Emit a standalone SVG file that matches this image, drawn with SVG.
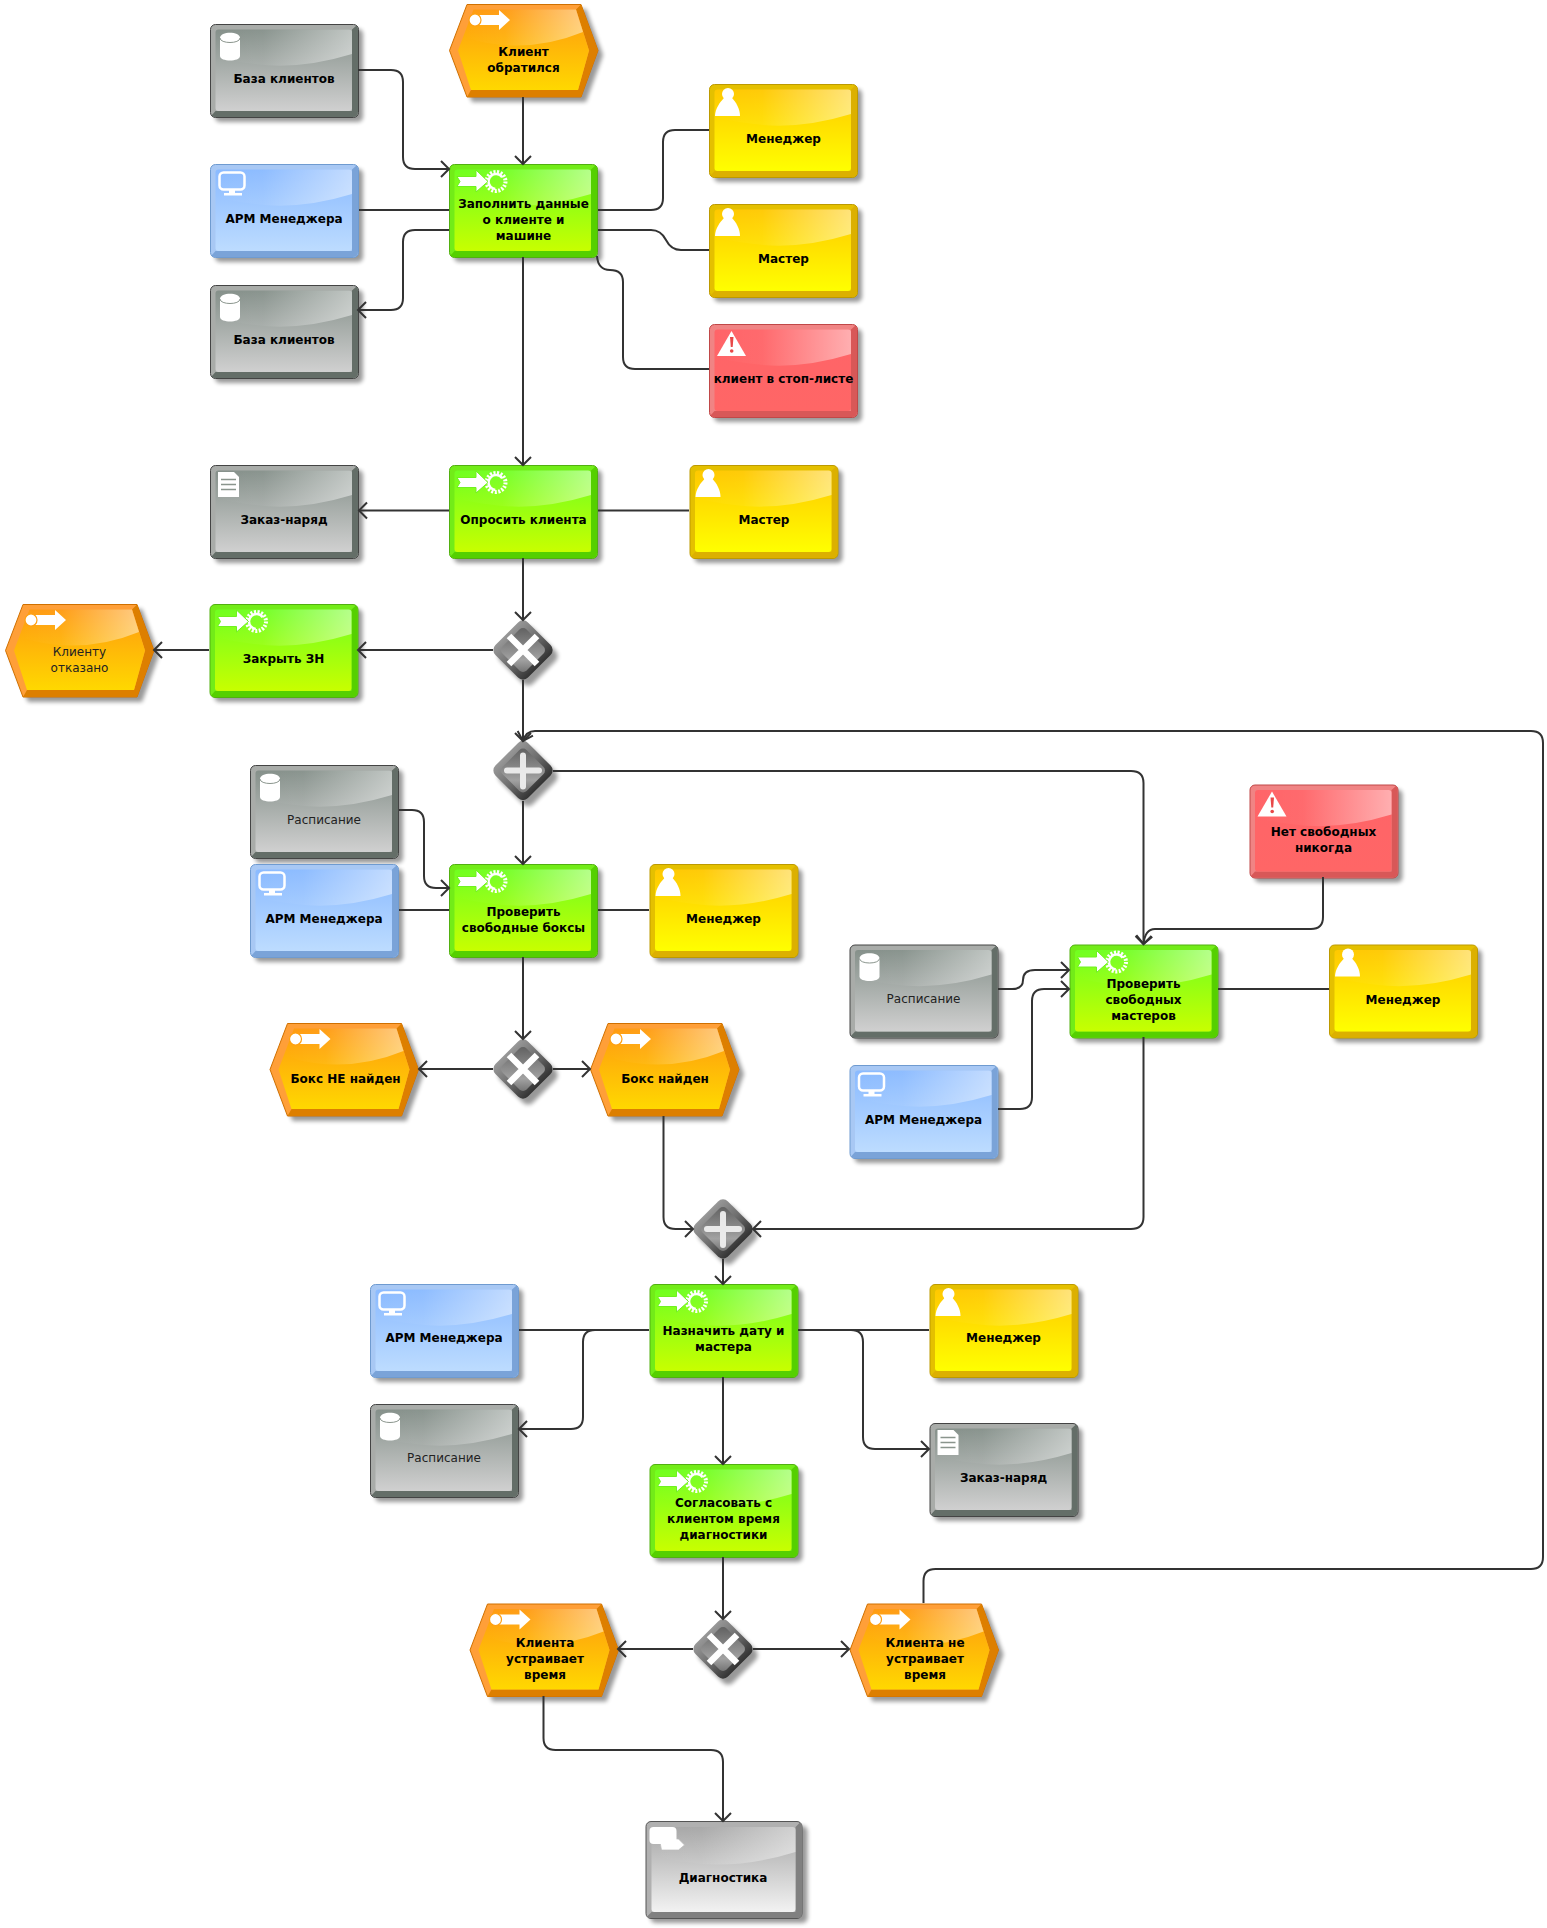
<svg xmlns="http://www.w3.org/2000/svg" xmlns:xlink="http://www.w3.org/1999/xlink" width="1547" height="1928" viewBox="0 0 1547 1928">
<style>
text{font-family:"DejaVu Sans","Liberation Sans",sans-serif;font-size:12px;font-weight:bold;text-anchor:middle;fill:#000}
text.r{font-weight:normal;fill:#222}
#connectors path{fill:none;stroke:#333;stroke-width:2}
.a{marker-end:url(#arrow)}
.sh{fill:#000;opacity:.4;filter:url(#blur)}
.w{fill:#fff}
</style>
<defs>
<filter id="blur" x="-20%" y="-20%" width="140%" height="140%"><feGaussianBlur stdDeviation="2.2"/></filter>
<marker id="arrow" markerUnits="userSpaceOnUse" markerWidth="20" markerHeight="20" refX="10" refY="10" orient="auto" overflow="visible"><path d="M2 2L10 10L2 18" fill="none" stroke="#333" stroke-width="2"/></marker>
<linearGradient id="gl" x1="0" y1="0" x2="1" y2="0"><stop offset="0" stop-color="#fff" stop-opacity="0"/><stop offset=".35" stop-color="#fff" stop-opacity=".04"/><stop offset="1" stop-color="#fff" stop-opacity=".48"/></linearGradient>
<linearGradient id="iy" x1="0" y1="0" x2="0" y2="1"><stop offset="0" stop-color="#ffc800"/><stop offset="1" stop-color="#ffff00"/></linearGradient>
<linearGradient id="ig" x1="0" y1="0" x2="0" y2="1"><stop offset="0" stop-color="#70ff20"/><stop offset="1" stop-color="#c8ff00"/></linearGradient>
<linearGradient id="ib" x1="0" y1="0" x2="0" y2="1"><stop offset="0" stop-color="#8abaff"/><stop offset="1" stop-color="#bddcff"/></linearGradient>
<linearGradient id="in" x1="0" y1="0" x2="0" y2="1"><stop offset="0" stop-color="#85908a"/><stop offset="1" stop-color="#d0d0d0"/></linearGradient>
<linearGradient id="ir" x1="0" y1="0" x2="0" y2="1"><stop offset="0" stop-color="#ff6468"/><stop offset="1" stop-color="#ff6666"/></linearGradient>
<linearGradient id="io" x1="0" y1="0" x2="0" y2="1"><stop offset="0" stop-color="#ff9a10"/><stop offset="1" stop-color="#ffd800"/></linearGradient>
<linearGradient id="il" x1="0" y1="0" x2="0" y2="1"><stop offset="0" stop-color="#a6a6a6"/><stop offset="1" stop-color="#f2f2f2"/></linearGradient>
<linearGradient id="db" x1="0" y1="0" x2="1" y2="0"><stop offset="0" stop-color="#989898"/><stop offset=".5" stop-color="#6e6e6e"/><stop offset="1" stop-color="#333"/></linearGradient>
<linearGradient id="di" x1="0" y1="0" x2="1" y2="1"><stop offset="0" stop-color="#5e5e5e"/><stop offset=".55" stop-color="#929292"/><stop offset=".7" stop-color="#a2a2a2"/><stop offset="1" stop-color="#6e6e6e"/></linearGradient>

<rect id="bshadow" x="5" y="5" width="148" height="93" rx="5" class="sh"/>
<path id="bdark" d="M146.500 1.500L142 5.500V87H5.500L1.500 91.500Q3 93 5 93H143Q148 93 148 88V5Q148 3 146.500 1.500Z"/>
<path id="bgloss" d="M5.500 8Q5.500 5.500 8 5.500H139Q142 5.500 142 8V30Q90 46 45 40Q20 37 5.500 33Z" fill="url(#gl)"/>

<g id="box-y"><use href="#bshadow"/><rect x=".5" y=".5" width="148" height="93" rx="5" fill="#e4c000" stroke="#bd9a00"/><use href="#bdark" fill="#dcb000"/><rect x="5.500" y="5.500" width="136.500" height="81.500" rx="3" fill="url(#iy)"/><use href="#bgloss"/></g>
<g id="box-g"><use href="#bshadow"/><rect x=".5" y=".5" width="148" height="93" rx="5" fill="#72ec18" stroke="#52b010"/><use href="#bdark" fill="#55d000"/><rect x="5.500" y="5.500" width="136.500" height="81.500" rx="3" fill="url(#ig)"/><use href="#bgloss"/></g>
<g id="box-b"><use href="#bshadow"/><rect x=".5" y=".5" width="148" height="93" rx="5" fill="#a8c8f4" stroke="#6f9bd0"/><use href="#bdark" fill="#7aa3d8"/><rect x="5.500" y="5.500" width="136.500" height="81.500" rx="3" fill="url(#ib)"/><use href="#bgloss"/></g>
<g id="box-n"><use href="#bshadow"/><rect x=".5" y=".5" width="148" height="93" rx="5" fill="#a9aca9" stroke="#444"/><use href="#bdark" fill="#646e68"/><rect x="5.500" y="5.500" width="136.500" height="81.500" rx="3" fill="url(#in)"/><use href="#bgloss"/></g>
<g id="box-r"><use href="#bshadow"/><rect x=".5" y=".5" width="148" height="93" rx="5" fill="#f08484" stroke="#c04848"/><use href="#bdark" fill="#d85858"/><rect x="5.500" y="5.500" width="136.500" height="81.500" rx="3" fill="url(#ir)"/><use href="#bgloss"/></g>
<g id="box-l"><rect x="5" y="5" width="157" height="97" rx="5" class="sh"/><rect x=".5" y=".5" width="156" height="97" rx="5" fill="#b0b0b0" stroke="#555"/><path d="M154.500 1.500L150 6V91H6L1.500 95.500Q3 97 5 97H152Q156.500 97 156.500 92V5Q156.500 3 154.500 1.500Z" fill="#808080"/><rect x="6" y="6" width="144" height="85" rx="3" fill="url(#il)"/><path d="M6 9Q6 6 9 6H147Q150 6 150 9V31Q95 48 48 42Q21 39 6 34Z" fill="url(#gl)"/></g>

<g id="hex"><path d="M23 5 L137 5 L154 51 L137 98 L23 98 L5 51Z" class="sh"/><path d="M18 .5H132L149 46.500L132 93H18L.5 46.500Z" fill="#ff9f38" stroke="#d07000"/><path d="M132 .5L149 46.500L132 93H18L22 86H129L140 46.500L127 5.500Z" fill="#dd7f00"/><path d="M24.500 5.500H127L140 46.500L129 86H22L9 46.500Z" fill="url(#io)"/><path d="M24.500 5.500H127L134 28Q90 46 45 40Q25 37 14 32Z" fill="url(#gl)"/></g>

<g id="i-db"><path class="w" d="M10 14C10 7 30 7 30 14V32C30 38 10 38 10 32Z"/><path d="M10 14C10 20 30 20 30 14" fill="none" stroke="#8a958d" stroke-width="1"/></g>
<g id="i-mon"><rect x="9.500" y="8.500" width="25" height="17" rx="4" fill="none" stroke="#fff" stroke-width="2.500"/><rect x="19" y="26" width="6" height="3" class="w"/><rect x="14" y="29" width="18" height="2.500" class="w"/></g>
<g id="i-per"><circle cx="19" cy="10" r="6" class="w"/><path class="w" d="M15 14H23C27 18 31 25 31 32H6C6 25 11 18 15 14Z"/></g>
<g id="i-war"><path class="w" d="M22.500 7L37 32H8Z"/><path d="M21 13H24.500L23.700 23H21.800Z" fill="#e84848"/><circle cx="22.700" cy="27" r="1.800" fill="#e84848"/></g>
<g id="i-fun"><circle cx="47" cy="17.500" r="9.500" fill="none" stroke="#fff" stroke-width="4" stroke-dasharray="2 1.500"/><circle cx="47" cy="17.500" r="7.500" fill="none" stroke="#fff" stroke-width="2.500" stroke-dasharray="30 17" transform="rotate(95 47 17.500)"/><path class="w" stroke="#70f020" stroke-width="1" d="M8 12.500H27V6L39 17.500L27 28V22.500H8L11 17.500Z"/></g>
<g id="i-evt"><path class="w" d="M26 11H50V6L61 16L50 26V21H26Z"/><circle cx="26" cy="16" r="6" class="w" stroke="#ffa010" stroke-width="1.200"/></g>
<g id="i-doc"><path class="w" d="M8 7H24L29 12V32H8Z"/><path d="M11 14.500H26M11 19.500H26M11 24.500H26" stroke="#8a958d" stroke-width="1.500"/></g>
<g id="i-if"><path class="w" d="M14 18H33L39 24L33 29H16Z" stroke="#bbb" stroke-width=".7"/><rect x="4" y="6" width="27" height="17" rx="4" class="w"/></g>

<g id="gw"><rect x="-23" y="-23" width="46" height="46" rx="7" transform="translate(5 6) rotate(45)" class="sh"/><rect x="-23" y="-23" width="46" height="46" rx="7" transform="rotate(45)" fill="url(#db)"/><rect x="-17" y="-17" width="34" height="34" rx="5" transform="rotate(45)" fill="url(#di)"/></g>
<path id="mx" d="M-14-14L14 14M14-14L-14 14" stroke="#fff" stroke-width="6.500" fill="none"/>
<path id="mp" d="M-16 0H16M0-15V16" stroke="#eee" stroke-width="6" stroke-linecap="round" fill="none" opacity=".95"/>
</defs>

<g id="n1" transform="translate(210 24)"><use href="#box-n"/><use href="#i-db"/><text x="74" y="59">База клиентов</text></g>
<g id="n2" transform="translate(449 4)"><use href="#hex"/><use href="#i-evt"/><text x="74.500" y="52">Клиент</text><text x="74.500" y="68">обратился</text></g>
<g id="n3" transform="translate(210 164)"><use href="#box-b"/><use href="#i-mon"/><text x="74" y="58.500">АРМ Менеджера</text></g>
<g id="n4" transform="translate(449 164)"><use href="#box-g"/><use href="#i-fun"/><text x="74.500" y="43.500">Заполнить данные</text><text x="74.500" y="59.500">о клиенте и</text><text x="74.500" y="75.500">машине</text></g>
<g id="n5" transform="translate(210 285)"><use href="#box-n"/><use href="#i-db"/><text x="74" y="58.500">База клиентов</text></g>
<g id="n6" transform="translate(709 84)"><use href="#box-y"/><use href="#i-per"/><text x="74.500" y="59">Менеджер</text></g>
<g id="n7" transform="translate(709 204)"><use href="#box-y"/><use href="#i-per"/><text x="74.500" y="59">Мастер</text></g>
<g id="n8" transform="translate(709 324)"><use href="#box-r"/><use href="#i-war"/><text x="74.500" y="59">клиент в стоп-листе</text></g>
<g id="n9" transform="translate(210 465)"><use href="#box-n"/><use href="#i-doc"/><text x="74" y="58.500">Заказ-наряд</text></g>
<g id="n10" transform="translate(449 465)"><use href="#box-g"/><use href="#i-fun"/><text x="74.500" y="58.500">Опросить клиента</text></g>
<g id="n11" transform="translate(689.500 465)"><use href="#box-y"/><use href="#i-per"/><text x="74.500" y="58.500">Мастер</text></g>
<g id="n12" transform="translate(5 604)"><use href="#hex"/><use href="#i-evt"/><text class="r" x="74.500" y="51.500">Клиенту</text><text class="r" x="74.500" y="67.500">отказано</text></g>
<g id="n13" transform="translate(209.500 604)"><use href="#box-g"/><use href="#i-fun"/><text x="74" y="59">Закрыть ЗН</text></g>
<g id="g1" transform="translate(523 650)"><use href="#gw"/><use href="#mx"/></g>
<g id="g2" transform="translate(523 770.500)"><use href="#gw"/><use href="#mp"/></g>
<g id="n14" transform="translate(250 765)"><use href="#box-n"/><use href="#i-db"/><text class="r" x="74" y="58.500">Расписание</text></g>
<g id="n15" transform="translate(250 864)"><use href="#box-b"/><use href="#i-mon"/><text x="74" y="59">АРМ Менеджера</text></g>
<g id="n16" transform="translate(449 864)"><use href="#box-g"/><use href="#i-fun"/><text x="74.500" y="51.500">Проверить</text><text x="74.500" y="67.500">свободные боксы</text></g>
<g id="n17" transform="translate(649.500 864)"><use href="#box-y"/><use href="#i-per"/><text x="74" y="59">Менеджер</text></g>
<g id="n18" transform="translate(1249.500 784.500)"><use href="#box-r"/><use href="#i-war"/><text x="74" y="51">Нет свободных</text><text x="74" y="67">никогда</text></g>
<g id="n19" transform="translate(849.500 944.500)"><use href="#box-n"/><use href="#i-db"/><text class="r" x="74" y="58.500">Расписание</text></g>
<g id="n20" transform="translate(1069.500 944.500)"><use href="#box-g"/><use href="#i-fun"/><text x="74" y="43.500">Проверить</text><text x="74" y="59.500">свободных</text><text x="74" y="75.500">мастеров</text></g>
<g id="n21" transform="translate(1329 944.500)"><use href="#box-y"/><use href="#i-per"/><text x="74" y="59">Менеджер</text></g>
<g id="n22" transform="translate(849.500 1065)"><use href="#box-b"/><use href="#i-mon"/><text x="74" y="58.500">АРМ Менеджера</text></g>
<g id="n23" transform="translate(269.500 1023)"><use href="#hex"/><use href="#i-evt"/><text x="76" y="59.500">Бокс НЕ найден</text></g>
<g id="g3" transform="translate(523 1069)"><use href="#gw"/><use href="#mx"/></g>
<g id="n24" transform="translate(590 1023)"><use href="#hex"/><use href="#i-evt"/><text x="75" y="59.500">Бокс найден</text></g>
<g id="g4" transform="translate(723 1229)"><use href="#gw"/><use href="#mp"/></g>
<g id="n25" transform="translate(649.500 1284)"><use href="#box-g"/><use href="#i-fun"/><text x="74" y="50.500">Назначить дату и</text><text x="74" y="66.500">мастера</text></g>
<g id="n26" transform="translate(370 1284)"><use href="#box-b"/><use href="#i-mon"/><text x="74" y="58">АРМ Менеджера</text></g>
<g id="n27" transform="translate(370 1404)"><use href="#box-n"/><use href="#i-db"/><text class="r" x="74" y="58">Расписание</text></g>
<g id="n28" transform="translate(929.500 1284)"><use href="#box-y"/><use href="#i-per"/><text x="74" y="58">Менеджер</text></g>
<g id="n29" transform="translate(929.500 1423)"><use href="#box-n"/><use href="#i-doc"/><text x="74" y="58.500">Заказ-наряд</text></g>
<g id="n30" transform="translate(649.500 1464)"><use href="#box-g"/><use href="#i-fun"/><text x="74" y="43">Согласовать с</text><text x="74" y="59">клиентом время</text><text x="74" y="75">диагностики</text></g>
<g id="g5" transform="translate(723 1649)"><use href="#gw"/><use href="#mx"/></g>
<g id="n31" transform="translate(469.500 1603.500)"><use href="#hex"/><use href="#i-evt"/><text x="75.500" y="43.500">Клиента</text><text x="75.500" y="59.500">устраивает</text><text x="75.500" y="75.500">время</text></g>
<g id="n32" transform="translate(849.500 1603.500)"><use href="#hex"/><use href="#i-evt"/><text x="75.500" y="43.500">Клиента не</text><text x="75.500" y="59.500">устраивает</text><text x="75.500" y="75.500">время</text></g>
<g id="n33" transform="translate(645.500 1821)"><use href="#box-l"/><use href="#i-if"/><text x="77.500" y="61">Диагностика</text></g>

<g id="connectors">
<path class="a" d="M358 70H391Q403 70 403 82V157Q403 169 415 169H449"/>
<path class="a" d="M523 97V164"/>
<path d="M359 210H449"/>
<path class="a" d="M449 230H415Q403 230 403 242V298Q403 310 391 310H358"/>
<path d="M598 210H651Q663 210 663 198V142Q663 130 675 130H709"/>
<path d="M598 230H651Q661 230 666 240Q671 250 681 250H709"/>
<path d="M597 256Q598 270 610 270Q623 270 623 282V357Q623 369 635 369H709"/>
<path class="a" d="M523 257V465"/>
<path class="a" d="M449 510.500H359"/>
<path d="M598 510.500H689"/>
<path class="a" d="M523 558V620"/>
<path class="a" d="M493 650H358"/>
<path class="a" d="M209 650H154"/>
<path class="a" d="M523 680V741"/>
<path class="a" d="M523 801V864"/>
<path class="a" d="M399 810H412Q424 810 424 822V876Q424 888 436 888H449"/>
<path d="M399 910H449"/>
<path d="M598 910H649"/>
<path class="a" d="M523 957V1039"/>
<path class="a" d="M493 1069H419"/>
<path class="a" d="M553 1069H590"/>
<path class="a" d="M663.500 1116V1217Q663.500 1229 675.500 1229H693"/>
<path class="a" d="M553 771H1131Q1143.500 771 1143.500 783V944"/>
<path class="a" d="M1323 877V917Q1323 929 1311 929H1155Q1145 929 1143.500 944"/>
<path class="a" d="M998 989H1012Q1023 989 1023 980Q1023 970 1035 970H1069"/>
<path class="a" d="M998 1109H1020Q1032 1109 1032 1097V1001Q1032 989 1044 989H1069"/>
<path d="M1218 989H1329"/>
<path class="a" d="M1143.500 1037V1217Q1143.500 1229 1131 1229H753"/>
<path class="a" d="M723 1259V1284"/>
<path d="M649 1330H519"/>
<path class="a" d="M649 1330H595Q583 1330 583 1342V1417Q583 1429 571 1429H519"/>
<path d="M798 1330H929"/>
<path class="a" d="M798 1330H851Q863 1330 863 1342V1437Q863 1449 875 1449H929"/>
<path class="a" d="M723 1377V1464"/>
<path class="a" d="M723 1557V1619"/>
<path class="a" d="M693 1649H618"/>
<path class="a" d="M753 1649H849"/>
<path class="a" d="M923.500 1603V1581Q923.500 1569 935.500 1569H1531Q1543 1569 1543 1557V743Q1543 731 1531 731H535Q526 731 523 741"/>
<path class="a" d="M543.500 1696V1738Q543.500 1750 555.500 1750H711Q723 1750 723 1762V1821"/>
</g>
</svg>
